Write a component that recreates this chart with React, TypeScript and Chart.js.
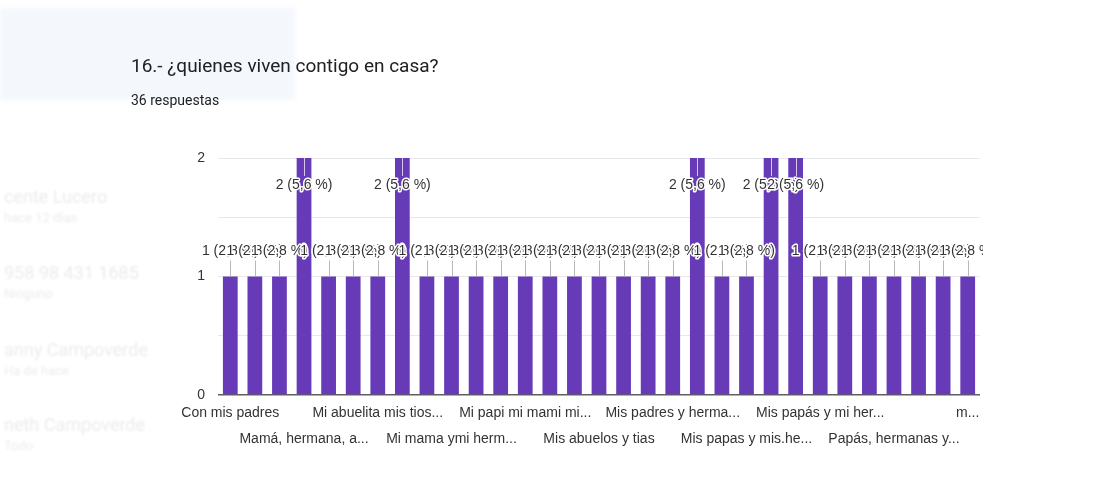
import React, { useEffect, useRef } from "react";
import { Chart, registerables } from "chart.js";

Chart.register(...registerables);

const TITLE = "16.- ¿quienes viven contigo en casa?";
const SUBTITLE = "36 respuestas";
const TOTAL = 36;

const categories: string[] = [
  "Con mis padres",
  "Con mis padres y hermanos",
  "Mamá",
  "Mamá, hermana, a...",
  "Mamá, papá y hermanos",
  "Mi abuela",
  "Mi abuelita mis tios...",
  "Mi mamá",
  "Mi mamá y mi papá",
  "Mi mama ymi herm...",
  "Mi mamá, mi papá...",
  "Mi padre y mi madre",
  "Mi papi mi mami mi...",
  "Mis abuelos",
  "Mis abuelos y mi mamá",
  "Mis abuelos y tias",
  "Mis hermanos",
  "Mis padres",
  "Mis padres y herma...",
  "Mis papas",
  "Mis papas y hermanos",
  "Mis papas y mis.he...",
  "Mis papás",
  "Mis papás y mi hermano",
  "Mis papás y mi her...",
  "Mis papás y mis abuelos",
  "Papá y mamá",
  "Papás, hermanas y...",
  "Papás y hermanos",
  "familia",
  "m...",
];

const counts: number[] = [
  1, 1, 1, 2, 1, 1, 1, 2, 1, 1, 1, 1, 1, 1, 1, 1, 1, 1, 1, 2, 1, 1, 2, 2, 1, 1, 1, 1, 1, 1, 1,
];

const yTickValues: number[] = [0, 1, 2];

const BAR_COLOR = "#673ab7";
const FONT = '"Liberation Sans", Arial, sans-serif';

function pctText(v: number): string {
  return `${v} (${((v / TOTAL) * 100).toFixed(1).replace(".", ",")} %)`;
}

const annotationPlugin = {
  id: "gformsAnnotations",
  afterDatasetsDraw(chart: any) {
    const ctx = chart.ctx as CanvasRenderingContext2D;
    const meta = chart.getDatasetMeta(0);
    const area = chart.chartArea;
    const items = meta.data.map((bar: any, i: number) => {
      const top = bar.y;
      let ly: number, s0: number, s1: number, inside: boolean;
      if (top - 25 < area.top) {
        ly = top + 27;
        s0 = top;
        s1 = ly - 9;
        inside = true;
      } else {
        ly = top - 25;
        s0 = ly + 9;
        s1 = top;
        inside = false;
      }
      return { x: bar.x, ly, s0, s1, inside, text: pctText(counts[i]) };
    });
    ctx.save();
    ctx.beginPath();
    ctx.rect(0, 0, area.right + 3, chart.height);
    ctx.clip();
    ctx.lineWidth = 1;
    items.forEach((it: any) => {
      ctx.strokeStyle = it.inside ? "rgba(225,215,240,0.9)" : "#b8b8b8";
      const x = Math.round(it.x) + 0.5;
      ctx.beginPath();
      ctx.moveTo(x, it.s0);
      ctx.lineTo(x, it.s1);
      ctx.stroke();
    });
    ctx.font = `14px ${FONT}`;
    ctx.textAlign = "center";
    ctx.textBaseline = "middle";
    ctx.lineJoin = "round";
    items.forEach((it: any) => {
      ctx.lineWidth = 3;
      ctx.strokeStyle = "#ffffff";
      ctx.strokeText(it.text, it.x, it.ly);
      ctx.fillStyle = "#333333";
      ctx.fillText(it.text, it.x, it.ly);
    });
    ctx.restore();
  },
};

function BarChart() {
  const ref = useRef<HTMLCanvasElement | null>(null);
  useEffect(() => {
    if (!ref.current) return;
    const chart = new Chart(ref.current, {
      type: "bar",
      data: {
        labels: categories,
        datasets: [
          {
            data: counts,
            backgroundColor: BAR_COLOR,
            barPercentage: 0.6,
            categoryPercentage: 1.0,
          },
        ],
      },
      options: {
        animation: false,
        responsive: false,
        maintainAspectRatio: false,
        layout: { padding: { left: 0, top: 158, right: 127, bottom: 0 } },
        plugins: { legend: { display: false }, tooltip: { enabled: false } },
        scales: {
          x: {
            grid: { display: false, drawTicks: false },
            border: { display: false },
            ticks: {
              autoSkip: false,
              maxRotation: 0,
              minRotation: 0,
              padding: 6,
              color: "#333333",
              font: { family: FONT, size: 14, lineHeight: 1.8 },
              callback: (_v: any, index: number) => {
                if (index % 3 !== 0) return "";
                const lab = categories[index];
                return (index / 3) % 2 === 0 ? lab : ["", lab];
              },
            },
            afterFit: (scale: any) => {
              scale.height = 97;
              scale.paddingLeft = 0;
              scale.paddingRight = 0;
            },
          },
          y: {
            min: 0,
            max: 2,
            ticks: {
              stepSize: 0.5,
              padding: 13,
              color: "#333333",
              font: { family: FONT, size: 14 },
              callback: (v: any) => (yTickValues.includes(Number(v)) ? String(v) : ""),
            },
            grid: {
              drawTicks: false,
              color: (c: any) => (c.tick && c.tick.value === 0 ? "#5f5f5f" : "#e8e8e8"),
              lineWidth: (c: any) => (c.tick && c.tick.value === 0 ? 1.5 : 1),
            },
            border: { display: false },
            afterFit: (scale: any) => {
              scale.width = 218;
              scale.paddingTop = 0;
              scale.paddingBottom = 0;
            },
          },
        },
      },
      plugins: [annotationPlugin],
    });
    return () => chart.destroy();
  }, []);
  return (
    <canvas
      ref={ref}
      width={1107}
      height={492}
      style={{ position: "absolute", left: 0, top: 0, width: 1107, height: 492 }}
    />
  );
}

const ghostNames = [
  { t: "cente Lucero", s: "hace 12 días", y: 186 },
  { t: "958 98 431 1685", s: "Ninguno", y: 262 },
  { t: "anny Campoverde", s: "Ha de hace", y: 339 },
  { t: "neth Campoverde", s: "Todo", y: 414 },
];

export default function App() {
  return (
    <div
      style={{
        position: "fixed",
        left: 0,
        top: 0,
        width: 1107,
        height: 492,
        background: "#ffffff",
        overflow: "hidden",
      }}
    >
      <div
        style={{
          position: "absolute",
          left: 0,
          top: 8,
          width: 295,
          height: 92,
          background: "#f4f7fc",
          filter: "blur(2px)",
        }}
      />
      {ghostNames.map((g) => (
        <div
          key={g.t}
          style={{
            position: "absolute",
            left: 4,
            top: g.y,
            fontFamily: "Roboto, sans-serif",
            color: "#ececec",
            filter: "blur(1px)",
            whiteSpace: "nowrap",
          }}
        >
          <div style={{ fontSize: 18 }}>{g.t}</div>
          <div style={{ fontSize: 13, marginTop: 3 }}>{g.s}</div>
        </div>
      ))}
      <BarChart />
      <div
        style={{
          position: "absolute",
          left: 131,
          top: 54,
          fontFamily: "Roboto, sans-serif",
          fontSize: 19,
          color: "#202124",
          whiteSpace: "nowrap",
        }}
      >
        {TITLE}
      </div>
      <div
        style={{
          position: "absolute",
          left: 131,
          top: 92,
          fontFamily: "Roboto, sans-serif",
          fontSize: 14,
          color: "#202124",
          whiteSpace: "nowrap",
        }}
      >
        {SUBTITLE}
      </div>
    </div>
  );
}
